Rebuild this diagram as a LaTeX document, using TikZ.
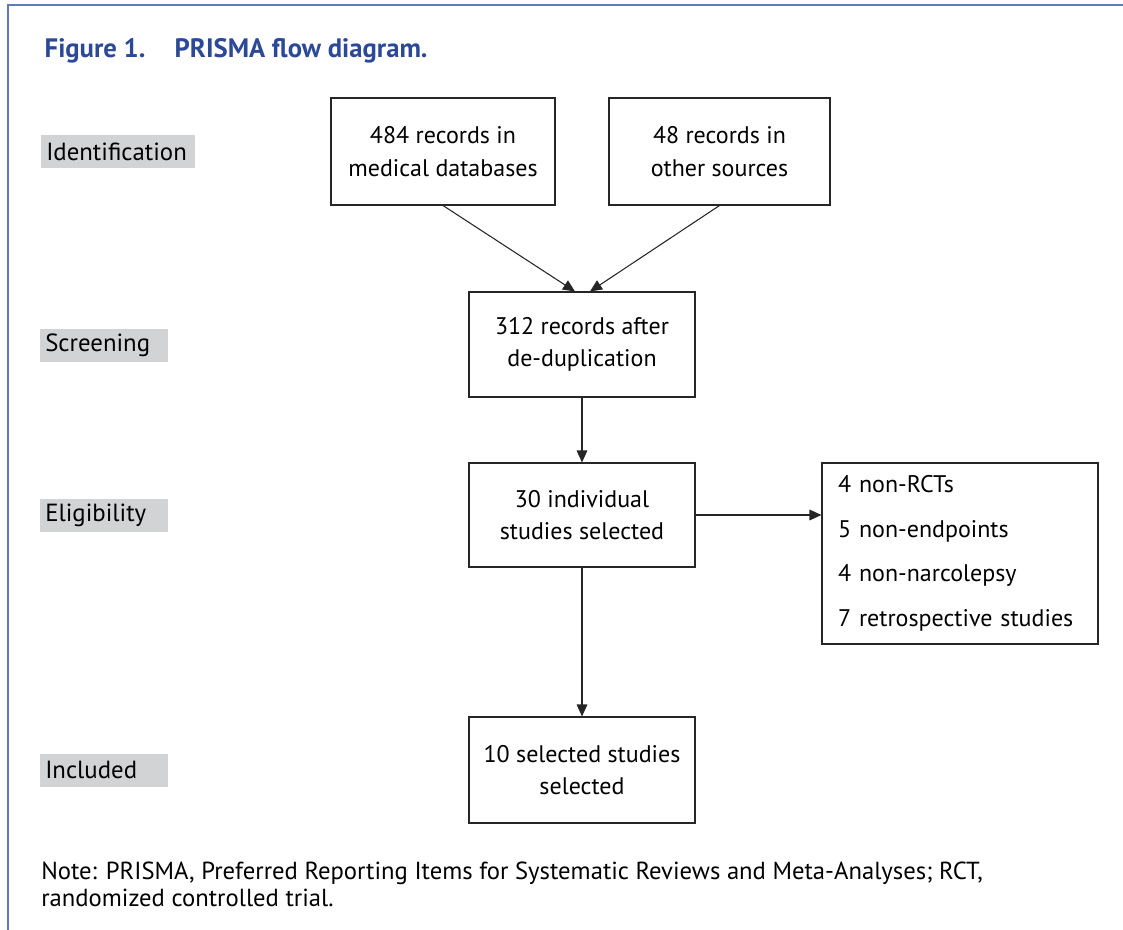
\documentclass[tikz,border=0pt]{standalone}
\usepackage{fontspec}
\setmainfont{PT Sans}
\usetikzlibrary{arrows.meta,positioning}
\definecolor{frameblue}{RGB}{98,120,184}
\definecolor{titleblue}{RGB}{44,73,152}
\definecolor{stagegray}{RGB}{209,211,212}
\tikzstyle{box}=[rectangle, draw=black!85, line width=0.8, align=center, inner sep=0pt, font=\fontsize{18}{24.5}\selectfont]
\tikzstyle{stage}=[rectangle, fill=stagegray, anchor=west, minimum height=24.75pt, inner xsep=3.75pt, inner ysep=0pt, align=left, font=\fontsize{18.6}{22}\selectfont]
\tikzstyle{l1}=[line width=0.8, draw=black!85, -{Triangle[length=9pt,width=8pt]}]

\begin{document}
\begin{tikzpicture}[x=0.75pt,y=-0.75pt]
    \useasboundingbox (0,0) rectangle (1123,930);
    \draw[frameblue, line width=1.5pt] (1123,5) -- (8,5) -- (8,930);

    \node[anchor=base west, text=titleblue, font=\fontsize{20}{24}\selectfont\bfseries] (title) at (40,58) {Figure 1.\hspace{22pt}PRISMA flow diagram.};

    \node[stage, text width=108pt] (ident) at (41,151.5) {Identification};
    \node[stage, text width=88.5pt] (screen) at (40,345) {Screening};
    \node[stage, text width=88.5pt] (elig) at (40,515) {Eligibility};
    \node[stage, text width=88.5pt] (inclst) at (40,770) {Included};

    \node[box, minimum width=168pt, minimum height=80.25pt] (rec1) at (443,151.5) {484 records in\\medical databases};
    \node[box, minimum width=165.75pt, minimum height=80.25pt] (rec2) at (719.5,151.5) {48 records in\\other sources};
    \node[box, minimum width=169.5pt, minimum height=78.75pt] (dedup) at (582,344.5) {312 records after\\de-duplication};
    \node[box, minimum width=169.5pt, minimum height=78pt] (indiv) at (582,515) {30 individual\\studies selected};
    \node[box, minimum width=169.5pt, minimum height=79.5pt] (incl) at (582,770) {10 selected studies\\selected};
    \node[box, minimum width=207pt, minimum height=135.75pt, align=left, text width=183pt, font=\fontsize{18}{33.4}\selectfont] (excl) at (960,553.5) {4 non-RCTs\\5 non-endpoints\\4 non-narcolepsy\\7 retrospective studies};

    \draw[l1] (rec1.south) -- ([xshift=-5.25pt]dedup.north);
    \draw[l1] (rec2.south) -- ([xshift=6pt]dedup.north);
    \draw[l1] (dedup) -- (indiv);
    \draw[l1] (indiv) -- (incl);
    \draw[l1] (indiv.east) -- (indiv.east -| excl.west);

    \node[anchor=north west, align=left, inner sep=0pt, font=\fontsize{18.5}{20}\selectfont] (note) at (41,862) {Note: PRISMA, Preferred Reporting Items for Systematic Reviews and Meta-Analyses; RCT,\\randomized controlled trial.};
\end{tikzpicture}
\end{document}
